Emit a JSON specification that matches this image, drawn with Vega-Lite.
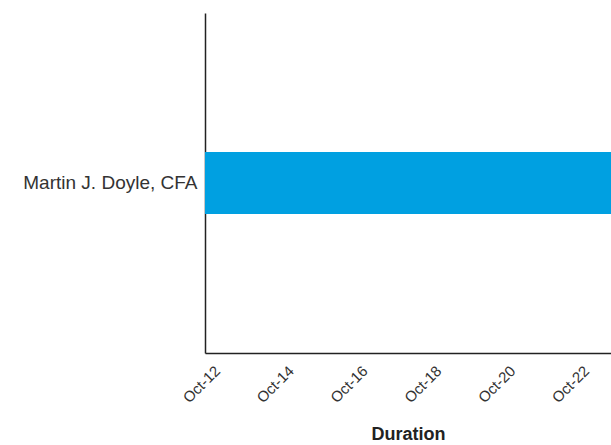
{
  "$schema": "https://vega.github.io/schema/vega-lite/v6.json",
  "autosize": "none",
  "padding": {"left": 205, "top": 13, "right": 0, "bottom": 92},
  "width": 406,
  "height": 340,
  "background": "white",
  "config": {"view": {"stroke": null}, "font": "Liberation Sans"},
  "data": {"values": [
    {"person": "Martin J. Doyle, CFA", "start": "2023-10-12", "end": "2023-10-26"}
  ]},
  "mark": {"type": "bar", "color": "#00a0e1", "height": 62, "clip": true},
  "encoding": {
    "y": {
      "field": "person", "type": "nominal", "title": null,
      "axis": {"ticks": false, "domainColor": "#222222", "domainWidth": 1.5, "labelFontSize": 19, "labelColor": "#333333", "labelPadding": 8, "labelLimit": 300}
    },
    "x": {
      "field": "start", "type": "temporal", "title": "Duration",
      "scale": {"type": "utc", "domain": ["2023-10-12", "2023-10-23"]},
      "axis": {"format": "%b-%d", "values": ["2023-10-12", "2023-10-14", "2023-10-16", "2023-10-18", "2023-10-20", "2023-10-22"], "labelAngle": -45, "labelAlign": "right", "labelBaseline": "middle", "ticks": false, "grid": false, "domainColor": "#222222", "domainWidth": 1.5, "labelFontSize": 15, "labelColor": "#333333", "labelPadding": 15, "labelOffset": 12, "titleFontSize": 18, "titleFontWeight": "bold", "titleColor": "#222222", "titlePadding": 20}
    },
    "x2": {"field": "end"}
  }
}
